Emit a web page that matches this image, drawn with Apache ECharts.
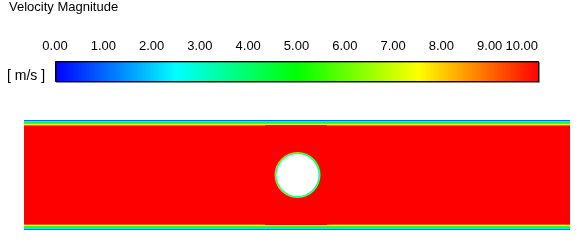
<!DOCTYPE html>
<html><head><meta charset="utf-8">
<script src="https://cdn.jsdelivr.net/npm/echarts@6/dist/echarts.min.js"></script>
<style>html,body{margin:0;padding:0;background:#fff}#c{width:580px;height:240px}</style>
</head><body><div id="c"></div>
<script>
// ---- data ----
const titleText = 'Velocity Magnitude';
const unitLabel = '[ m/s ]';
const scaleMin = 0;
const scaleMax = 10;
const scaleStep = 1;
const colorStopValues = [0, 2.5, 5, 7.5, 10];
const colorStopColors = ['#0000ff', '#00ffff', '#00ff00', '#ffff00', '#ff0000'];
const channelLength = 546;          // mm
const channelHalfHeight = 55;       // mm
const coreVelocity = 10;            // m/s (saturated)
const wallLayerDepth = [0, 1, 2, 3, 4, 5, 6];            // mm from wall (layer edges)
const topWallVelocity = [1.0, 2.8, 4.3, 5.8, 7.6, 9.1];   // m/s per layer
const bottomWallVelocity = [1.2, 2.3, 4.1, 5.6, 7.5, 9.1];
const wakeSpan = [241, 303];        // mm, zone where outer layer is thinner
const cylinderCenter = [273.5, 0];  // mm
const cylinderRadius = 23;          // mm
const cylinderRingVelocity = [6.2, 3.2];

// ---- helpers ----
function hexToRgb(h) { return [parseInt(h.slice(1,3),16), parseInt(h.slice(3,5),16), parseInt(h.slice(5,7),16)]; }
function colorOf(v) {
  v = Math.max(scaleMin, Math.min(scaleMax, v));
  for (let i = 0; i < colorStopValues.length - 1; i++) {
    const a = colorStopValues[i], b = colorStopValues[i+1];
    if (v <= b) {
      const t = (v - a) / (b - a);
      const c0 = hexToRgb(colorStopColors[i]), c1 = hexToRgb(colorStopColors[i+1]);
      const c = c0.map((x, k) => Math.round(x + (c1[k] - x) * t));
      return 'rgb(' + c.join(',') + ')';
    }
  }
  return colorStopColors[colorStopColors.length - 1];
}

// field cells: [x0, x1, y0, y1, v]
const fieldCells = [];
fieldCells.push([0, channelLength, -channelHalfHeight, channelHalfHeight, coreVelocity]);
const lastLayer = topWallVelocity.length - 1;
for (let i = 0; i < topWallVelocity.length; i++) {
  const yTop0 = channelHalfHeight - wallLayerDepth[i], yTop1 = channelHalfHeight - wallLayerDepth[i+1];
  const yBot0 = -channelHalfHeight + wallLayerDepth[i], yBot1 = -channelHalfHeight + wallLayerDepth[i+1];
  const spans = i === lastLayer ? [[0, wakeSpan[0]], [wakeSpan[1], channelLength]] : [[0, channelLength]];
  spans.forEach(s => {
    fieldCells.push([s[0], s[1], yTop1, yTop0, topWallVelocity[i]]);
    fieldCells.push([s[0], s[1], yBot0, yBot1, bottomWallVelocity[i]]);
  });
}

const fontFam = '"Liberation Sans", Arial, sans-serif';
const chart = echarts.init(document.getElementById('c'), null, {renderer: 'canvas'});
chart.setOption({
  animation: false,
  backgroundColor: '#fff',
  title: {
    text: titleText, left: 9, top: 1, padding: 0,
    textStyle: {fontSize: 13, fontWeight: 'normal', color: '#000', fontFamily: fontFam}
  },
  graphic: [{
    type: 'text', left: 7, top: 69,
    style: {text: unitLabel, fontSize: 14, fill: '#000', fontFamily: fontFam}
  }],
  grid: [
    {left: 24, top: 120, width: channelLength, height: 110},
    {left: 55, top: 61, width: 483, height: 20}
  ],
  xAxis: [
    {gridIndex: 0, type: 'value', min: 0, max: channelLength, show: false},
    {gridIndex: 1, type: 'value', min: scaleMin, max: scaleMax, interval: scaleStep, position: 'top',
     axisLine: {show: false}, axisTick: {show: false}, splitLine: {show: false},
     axisLabel: {formatter: v => v.toFixed(2), fontSize: 13, color: '#000', margin: 8, fontFamily: fontFam,
                 alignMaxLabel: 'right'}}
  ],
  yAxis: [
    {gridIndex: 0, type: 'value', min: -channelHalfHeight, max: channelHalfHeight, show: false},
    {gridIndex: 1, type: 'value', min: 0, max: 1, show: false}
  ],
  series: [
    {
      type: 'custom', xAxisIndex: 0, yAxisIndex: 0, data: fieldCells, silent: true,
      renderItem: (params, api) => {
        const p0 = api.coord([api.value(0), api.value(3)]);
        const p1 = api.coord([api.value(1), api.value(2)]);
        return {type: 'rect', shape: {x: p0[0], y: p0[1], width: p1[0] - p0[0], height: p1[1] - p0[1]},
                style: {fill: colorOf(api.value(4))}};
      }
    },
    {
      type: 'custom', xAxisIndex: 0, yAxisIndex: 0, silent: true,
      data: [[cylinderCenter[0], cylinderCenter[1], cylinderRadius]],
      renderItem: (params, api) => {
        const c = api.coord([api.value(0), api.value(1)]);
        const r = api.size([api.value(2), 0])[0];
        return {type: 'group', children: [
          {type: 'circle', shape: {cx: c[0], cy: c[1], r: r}, style: {fill: colorOf(cylinderRingVelocity[0])}},
          {type: 'circle', shape: {cx: c[0], cy: c[1], r: r - 1}, style: {fill: colorOf(cylinderRingVelocity[1])}},
          {type: 'circle', shape: {cx: c[0], cy: c[1], r: r - 2}, style: {fill: '#fff'}}
        ]};
      }
    },
    {
      type: 'custom', xAxisIndex: 1, yAxisIndex: 1, silent: true,
      data: [[scaleMin, scaleMax]],
      renderItem: (params, api) => {
        const p0 = api.coord([api.value(0), 1]);
        const p1 = api.coord([api.value(1), 0]);
        const stops = colorStopValues.map((v, i) => ({offset: (v - scaleMin) / (scaleMax - scaleMin), color: colorStopColors[i]}));
        return {type: 'rect',
          shape: {x: p0[0] + 0.5, y: p0[1] + 0.5, width: p1[0] - p0[0], height: p1[1] - p0[1]},
          style: {fill: new echarts.graphic.LinearGradient(0, 0, 1, 0, stops), stroke: '#000', lineWidth: 1,
                  shadowColor: 'rgba(0,0,0,0.35)', shadowOffsetX: 1, shadowOffsetY: 1, shadowBlur: 0}};
      }
    }
  ]
});
</script></body></html>
